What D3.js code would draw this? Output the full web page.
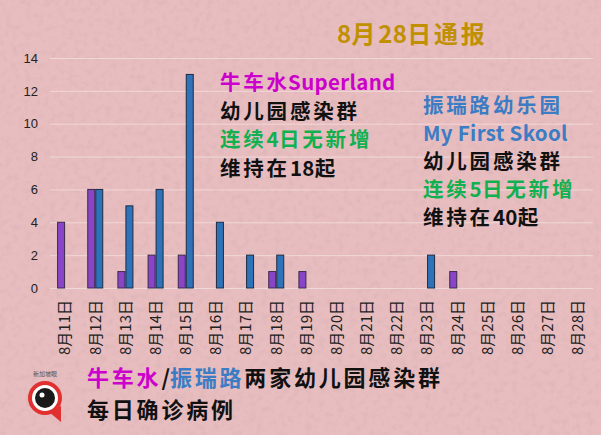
<!DOCTYPE html>
<html>
<head>
  <meta charset="utf-8">
  <script src="https://d3js.org/d3.v7.min.js"></script>
  <style>
    body { margin: 0; background: #e8bcbf; }
    text { font-family: "Noto Sans CJK SC", "Noto Sans", sans-serif; }
    .axis text { fill: #222; }
    .axis path, .axis line { display: none; }
    .grid line { stroke: #f0d8d8; stroke-width: 1; }
  </style>
</head>
<body>
  <svg width="601" height="435"></svg>

  <script>
    // 数据
    var dates = ["8月11日", "8月12日", "8月13日", "8月14日", "8月15日", "8月16日", "8月17日",
      "8月18日", "8月19日", "8月20日", "8月21日", "8月22日", "8月23日", "8月24日",
      "8月25日", "8月26日", "8月27日", "8月28日"];
    var chinatown = [4, 6, 1, 2, 2, 0, 0, 1, 1, 0, 0, 0, 0, 1, 0, 0, 0, 0];
    var zhenrui = [0, 6, 5, 6, 13, 4, 2, 2, 0, 0, 0, 0, 2, 0, 0, 0, 0, 0];
    var yTicks = [0, 2, 4, 6, 8, 10, 12, 14];

    var svg = d3.select("svg");

    // 背景纹理
    var defs = svg.append("defs");
    var f = defs.append("filter").attr("id", "paper");
    f.append("feTurbulence").attr("type", "fractalNoise")
      .attr("baseFrequency", 0.16).attr("numOctaves", 3).attr("seed", 7);
    f.append("feColorMatrix").attr("type", "matrix")
      .attr("values", "0 0 0 0 0.6  0 0 0 0 0.4  0 0 0 0 0.42  0 0 0 -1.8 1.0");
    svg.append("rect").attr("width", 601).attr("height", 435).attr("fill", "#e8bdbf");
    svg.append("rect").attr("width", 601).attr("height", 435)
      .attr("filter", "url(#paper)").attr("opacity", 0.4);

    var x = d3.scaleBand()
      .domain(dates)
      .range([50, 593]);

    var y = d3.scaleLinear()
      .domain([0, 14])
      .range([288, 58]);

    // 网格线
    svg.append("g")
      .attr("class", "grid")
      .selectAll("line")
      .data(yTicks)
      .enter()
      .append("line")
      .attr("x1", 50)
      .attr("x2", 593)
      .attr("y1", function(d) { return y(d) + 0.5; })
      .attr("y2", function(d) { return y(d) + 0.5; });

    svg.append("g")
      .attr("class", "axis")
      .attr("transform", "translate(44,0)")
      .call(d3.axisLeft(y).tickValues(yTicks).tickSize(0).tickPadding(6))
      .selectAll("text")
      .style("font-family", "Liberation Sans, Arial, sans-serif")
      .style("font-size", "13px");

    var xAxis = svg.append("g")
      .attr("class", "axis")
      .attr("transform", "translate(0,298)")
      .call(d3.axisBottom(x).tickSize(0).tickPadding(0));
    xAxis.selectAll("text")
      .attr("transform", "rotate(-90)")
      .attr("text-anchor", "end")
      .attr("x", -2)
      .attr("y", 0)
      .attr("dy", "0.35em")
      .style("font-size", "15px")
      .style("font-family", "Noto Sans CJK SC");

    var bw = 7;

    svg.append("g")
      .selectAll("rect")
      .data(dates)
      .enter()
      .append("rect")
      .attr("x", function(d) { return x(d) + x.bandwidth() / 2 - bw - 0.5; })
      .attr("y", function(d, i) { return y(chinatown[i]); })
      .attr("width", bw)
      .attr("height", function(d, i) { return y(0) - y(chinatown[i]); })
      .attr("fill", "#8a44c8")
      .attr("stroke", "#3a2a4a")
      .attr("stroke-width", function(d, i) { return chinatown[i] > 0 ? 1 : 0; });

    svg.append("g")
      .selectAll("rect")
      .data(dates)
      .enter()
      .append("rect")
      .attr("x", function(d) { return x(d) + x.bandwidth() / 2 + 0.5; })
      .attr("y", function(d, i) { return y(zhenrui[i]); })
      .attr("width", bw)
      .attr("height", function(d, i) { return y(0) - y(zhenrui[i]); })
      .attr("fill", "#2e72b8")
      .attr("stroke", "#1c2c44")
      .attr("stroke-width", function(d, i) { return zhenrui[i] > 0 ? 1 : 0; });

    // 文本：中文字符稍宽
    var cjkGap = 2.8;
    function addRuns(sel, str, size, color) {
      var runs = str.match(/[\u4e00-\u9fff]+|[^\u4e00-\u9fff]+/g);
      runs.forEach(function(r, i) {
        var cjk = /[\u4e00-\u9fff]/.test(r);
        var ts = sel.append("tspan")
          .attr("font-size", size + "px")
          .attr("letter-spacing", cjk ? cjkGap : 0.3)
          .text(r);
        if (/^[A-Za-z]/.test(r) && i > 0) ts.attr("dx", -cjkGap + 1);
        if (color) ts.attr("fill", color);
      });
    }

    var title = svg.append("text")
      .attr("x", 337).attr("y", 43)
      .attr("font-weight", "bold")
      .attr("fill", "#c09000");
    addRuns(title, "8月28日通报", 24);

    function block(x0, y0, step, lines) {
      lines.forEach(function(l, i) {
        var t = svg.append("text")
          .attr("x", x0).attr("y", y0 + i * step)
          .attr("font-weight", "bold")
          .attr("fill", l[1]);
        addRuns(t, l[0], 20.5);
      });
    }

    block(220, 90, 28.7, [
      ["牛车水Superland", "#cc00cc"],
      ["幼儿园感染群", "#111"],
      ["连续4日无新增", "#12b050"],
      ["维持在18起", "#111"]
    ]);

    block(423, 113, 28, [
      ["振瑞路幼乐园", "#3b7cc4"],
      ["My First Skool", "#3b7cc4"],
      ["幼儿园感染群", "#111"],
      ["连续5日无新增", "#12b050"],
      ["维持在40起", "#111"]
    ]);

    // 底部说明
    var t1 = svg.append("text")
      .attr("x", 87).attr("y", 386)
      .attr("font-weight", "bold");
    addRuns(t1, "牛车水", 22, "#cc00cc");
    t1.append("tspan").attr("font-size", "22px").attr("fill", "#111").text("/");
    addRuns(t1, "振瑞路", 22, "#3b7cc4");
    addRuns(t1, "两家幼儿园感染群", 22, "#111");

    var t2 = svg.append("text")
      .attr("x", 87).attr("y", 418)
      .attr("font-weight", "bold")
      .attr("fill", "#111");
    addRuns(t2, "每日确诊病例", 22);

    // 标志
    var logo = svg.append("g").attr("transform", "translate(45,398)");
    logo.append("path")
      .attr("d", "M4,14 L16,24 L16,8 Z")
      .attr("fill", "#e03030");
    logo.append("circle").attr("r", 15).attr("fill", "#fff")
      .attr("stroke", "#e03030").attr("stroke-width", 4);
    logo.append("circle").attr("r", 10).attr("fill", "#1a1a1a");
    logo.append("circle").attr("cx", -3).attr("cy", -3).attr("r", 2.5).attr("fill", "#fff");
    logo.append("text").attr("x", 0).attr("y", -22)
      .attr("text-anchor", "middle").attr("font-size", "6px").attr("fill", "#555")
      .text("新加坡眼");
  </script>
</body>
</html>
